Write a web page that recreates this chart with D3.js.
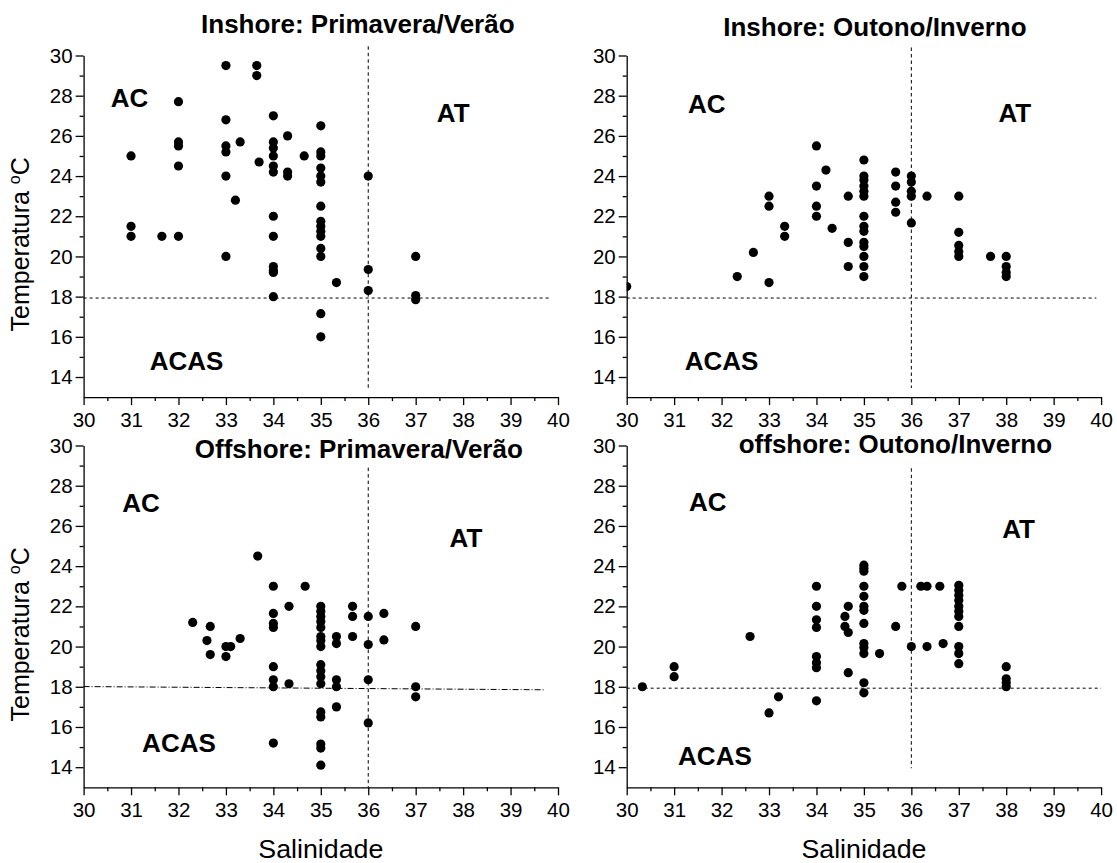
<!DOCTYPE html>
<html>
<head>
<meta charset="utf-8">
<script src="https://cdn.jsdelivr.net/npm/d3@7"></script>
<style>
  body { margin: 0; background: #fff; }
  text { font-family: Arial, "Liberation Sans", Helvetica, sans-serif; }
</style>
</head>
<body>
<div id="chart"></div>
<script>
// salinidade, temperatura
var inshorePrimVer = [
  [31,25],[31,21.5],[31,21],[31.65,21],
  [32,27.7],[32,25.7],[32,25.5],[32,24.5],[32,21],
  [33,29.5],[33,26.8],[33,25.5],[33,25.2],[33,24],[33,20],[33.2,22.8],[33.3,25.7],
  [33.65,29.5],[33.65,29],[33.7,24.7],
  [34,27],[34,25.7],[34,25.4],[34,25],[34,24.5],[34,24.2],[34,22],[34,21],[34,19.5],[34,19.3],[34,19.2],[34,18],
  [34.3,26],[34.3,24.2],[34.3,24],[34.65,25],
  [35,26.5],[35,25.2],[35,25],[35,24.4],[35,24],[35,23.7],[35,22.5],[35,21.75],[35,21.5],[35,21.25],[35,21],[35,20.4],[35,20],[35,17.15],[35,16],
  [35.33,18.7],[36,24],[36,19.35],[36,18.3],
  [37,20],[37,18.05],[37,17.85]
];
var inshoreOutInv = [
  [30,18.5],[32.33,19],[32.67,20.2],[33,23],[33,22.5],[33,18.7],[33.33,21.5],[33.33,21],
  [34,25.5],[34,23.5],[34,22.5],[34,22],[34.2,24.3],[34.33,21.4],
  [34.67,23],[34.67,20.7],[34.67,19.5],
  [35,24.8],[35,24],[35,23.8],[35,23.5],[35,23.25],[35,23],[35,22],[35,21.5],[35,21.25],[35,20.7],[35,20.5],[35,20],[35,19.5],[35,19],
  [35.67,24.2],[35.67,23.5],[35.67,22.7],[35.67,22.2],
  [36,24],[36,23.7],[36,23.25],[36,23],[36,21.67],[36.33,23],
  [37,23],[37,21.2],[37,20.55],[37,20.25],[37,20],[37.67,20],
  [38,20],[38,19.5],[38,19.2],[38,19]
];
var offshorePrimVer = [
  [32.3,21.2],[32.6,20.3],[32.67,21],[32.67,19.6],[33,20],[33,19.5],[33.1,20],[33.3,20.4],[33.67,24.5],
  [34,23],[34,21.65],[34,21.15],[34,20.95],[34,19],[34,18.35],[34,18],[34,15.2],
  [34.33,22],[34.33,18.15],[34.67,23],
  [35,22],[35,21.75],[35,21.5],[35,21.25],[35,20.95],[35,20.5],[35,20.3],[35,20],[35,19.1],[35,18.8],[35,18.5],[35,18.15],[35,16.75],[35,16.5],[35,15.15],[35,14.95],[35,14.1],
  [35.33,20.5],[35.33,20.15],[35.33,18.35],[35.33,18],[35.33,17],
  [35.67,22],[35.67,21.5],[35.67,20.5],
  [36,21.5],[36,20.1],[36,18.35],[36,16.2],[36.33,21.65],[36.33,20.33],
  [37,21],[37,18],[37,17.5]
];
var offshoreOutInv = [
  [30.33,18],[31,19],[31,18.5],[32.6,20.5],[33,16.7],[33.2,17.5],
  [34,23],[34,22],[34,21.33],[34,20.95],[34,19.5],[34,19.2],[34,18.95],[34,17.3],
  [34.6,21.5],[34.6,21],[34.67,22],[34.67,20.7],[34.67,18.7],
  [35,24.05],[35,23.9],[35,23.75],[35,23],[35,22.5],[35,22],[35,21.8],[35,21.15],[35,20.15],[35,19.95],[35,19.65],[35,18.2],[35,17.7],
  [35.33,19.65],[35.67,21],[35.8,23],[36,20],[36.2,23],[36.33,23],[36.33,20],[36.6,23],[36.67,20.15],
  [37,23.05],[37,22.8],[37,22.55],[37,22.3],[37,22],[37,21.75],[37,21.5],[37,21],[37,20],[37,19.65],[37,19.15],
  [38,19],[38,18.4],[38,18.2],[38,18]
];

var titles = ["Inshore: Primavera/Verão", "Inshore: Outono/Inverno", "Offshore: Primavera/Verão", "offshore: Outono/Inverno"];
var xTicks = [30, 31, 32, 33, 34, 35, 36, 37, 38, 39, 40];
var yTicks = [14, 16, 18, 20, 22, 24, 26, 28, 30];
// AC, AT, ACAS label anchors in data units, one row per panel
var zoneNames = ["AC", "AT", "ACAS"];
var zonePos = [
  [[30.97,27.45],[37.79,26.7],[32.17,14.33]],
  [[31.69,27.15],[38.18,26.68],[32.0,14.33]],
  [[31.21,26.67],[38.06,24.93],[32.01,14.78]],
  [[31.71,26.72],[38.26,25.39],[31.86,14.11]]
];

var panels = [
  {data: inshorePrimVer, left: 83.6, top: 55.5, bottom: 397.1, tx: 37, ty: -23, yLabel: true, xLabel: false,
   hLine: [[30,17.93],[39.86,17.93]], vTop: 30.46, vBot: 13.37, dash: "3,3"},
  {data: inshoreOutInv, left: 626.7, top: 55.5, bottom: 397.1, tx: 11, ty: -19.2, yLabel: false, xLabel: false,
   hLine: [[30,17.93],[39.9,17.93]], vTop: 30.4, vBot: 13.45, dash: "3,3"},
  {data: offshorePrimVer, left: 83.6, top: 445.5, bottom: 787.3, tx: 38, ty: 12.8, yLabel: true, xLabel: true,
   hLine: [[30,18.01],[39.7,17.85]], vTop: 28.9, vBot: 13, dash: "6,2,1,2"},
  {data: offshoreOutInv, left: 626.7, top: 445.5, bottom: 787.3, tx: 31.5, ty: 7.5, yLabel: false, xLabel: true,
   hLine: [[30,17.93],[40,17.93]], vTop: 28.87, vBot: 13.95, dash: "3,3"}
];

var width = 1117, height = 863, plotW = 474.4;

var svg = d3.select("#chart").append("svg")
  .attr("width", width)
  .attr("height", height);

panels.forEach(function(p, i) {
  var h = p.bottom - p.top;
  var x = d3.scaleLinear().domain([30, 40]).range([0, plotW]);
  var y = d3.scaleLinear().domain([13, 30]).range([h, 0]);

  var g = svg.append("g")
    .attr("transform", "translate(" + p.left + "," + p.top + ")");

  g.append("clipPath").attr("id", "clip" + i)
    .append("rect").attr("x", 0).attr("y", -20).attr("width", plotW + 10).attr("height", h + 20);

  // minor ticks
  var xMinor = d3.range(30.5, 40, 1);
  var yMinor = d3.range(15, 30, 2);
  g.append("g").attr("transform", "translate(0," + h + ")")
    .call(d3.axisBottom(x).tickValues(xMinor).tickSize(4).tickFormat(""))
    .call(s => s.select(".domain").remove());
  g.append("g")
    .call(d3.axisLeft(y).tickValues(yMinor).tickSize(4).tickFormat(""))
    .call(s => s.select(".domain").remove());

  // X axis
  var xa = g.append("g").attr("transform", "translate(0," + h + ")")
    .call(d3.axisBottom(x).tickValues(xTicks).tickSize(8).tickSizeOuter(0).tickPadding(7).tickFormat(d3.format("d")));
  xa.selectAll("text").style("font-size", "20.5px").attr("fill", "#000");

  // Y axis
  var ya = g.append("g")
    .call(d3.axisLeft(y).tickValues(yTicks).tickSize(8).tickSizeOuter(0).tickPadding(3).tickFormat(d3.format("d")));
  ya.selectAll("text").style("font-size", "20.5px").attr("fill", "#000");

  g.selectAll(".domain, .tick line").attr("stroke", "#000").attr("stroke-width", 1.3);

  // reference lines
  g.append("line")
    .attr("x1", x(36)).attr("x2", x(36))
    .attr("y1", y(p.vTop)).attr("y2", y(p.vBot))
    .attr("stroke", "#000").attr("stroke-width", 1).attr("stroke-dasharray", "3.5,3");
  g.append("line")
    .attr("x1", x(p.hLine[0][0])).attr("y1", y(p.hLine[0][1]))
    .attr("x2", x(p.hLine[1][0])).attr("y2", y(p.hLine[1][1]))
    .attr("stroke", "#000").attr("stroke-width", 1).attr("stroke-dasharray", p.dash);

  g.append("g").attr("clip-path", "url(#clip" + i + ")")
    .selectAll("circle")
    .data(p.data)
    .enter().append("circle")
    .attr("cx", d => x(d[0]))
    .attr("cy", d => y(d[1]))
    .attr("r", 4.6)
    .attr("fill", "#000");

  // zone labels
  g.selectAll(".zone")
    .data(zonePos[i])
    .enter().append("text")
    .attr("class", "zone")
    .attr("x", d => x(d[0]))
    .attr("y", d => y(d[1]))
    .attr("text-anchor", "middle")
    .style("font-size", "26px")
    .style("font-weight", "bold")
    .text((d, j) => zoneNames[j]);

  g.append("text")
    .attr("transform", "translate(" + (plotW / 2 + p.tx) + "," + p.ty + ") scale(1.04,1)")
    .attr("text-anchor", "middle")
    .style("font-size", "25px")
    .style("font-weight", "bold")
    .text(titles[i]);

  if (p.yLabel) {
    var yl = g.append("text")
      .attr("transform", "translate(" + (29 - p.left) + "," + (h / 2 + 18) + ") rotate(-90)")
      .attr("text-anchor", "middle")
      .style("font-size", "25px");
    yl.append("tspan").text("Temperatura ");
    yl.append("tspan").attr("dy", -9).style("font-size", "16px").text("o");
    yl.append("tspan").attr("dy", 9).text("C");
  }
  if (p.xLabel) {
    g.append("text")
      .attr("transform", "translate(" + (plotW / 2) + "," + (858 - p.top) + ") scale(1.05,1)")
      .attr("text-anchor", "middle")
      .style("font-size", "25.5px")
      .text("Salinidade");
  }
});
</script>
</body>
</html>
